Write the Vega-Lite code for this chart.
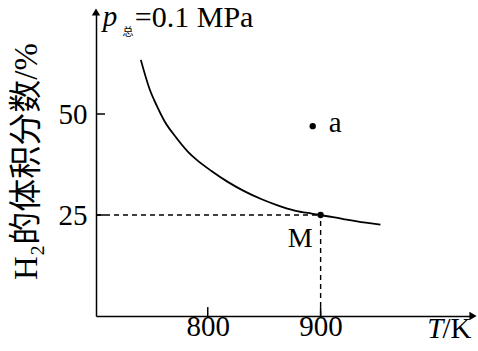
{
  "$schema": "https://vega.github.io/schema/vega-lite/v6.json",
  "width": 377,
  "height": 304,
  "autosize": {"type": "none"},
  "padding": {"left": 96, "top": 12, "right": 5, "bottom": 35},
  "background": "white",
  "config": {"view": {"stroke": null}, "font": "Liberation Serif"},
  "datasets": {
    "curve": [
      {"T": 740.7, "v": 63.4},
      {"T": 748.7, "v": 56.0},
      {"T": 754.6, "v": 52.2},
      {"T": 762, "v": 48.1},
      {"T": 770.8, "v": 44.6},
      {"T": 782.3, "v": 40.7},
      {"T": 790, "v": 38.7},
      {"T": 803.3, "v": 35.9},
      {"T": 817.7, "v": 33.2},
      {"T": 832.7, "v": 30.85},
      {"T": 847.8, "v": 28.9},
      {"T": 861.9, "v": 27.4},
      {"T": 877, "v": 26.1},
      {"T": 892, "v": 25.35},
      {"T": 900, "v": 25.0},
      {"T": 920, "v": 24.0},
      {"T": 940, "v": 23.1},
      {"T": 953, "v": 22.6}
    ],
    "points": [
      {"T": 893, "v": 47.0, "label": "a"},
      {"T": 900, "v": 25.0, "label": "M"}
    ],
    "guides": [
      {"T": 701, "v": 25, "T2": 900, "v2": 25},
      {"T": 900, "v": 0, "T2": 900, "v2": 25}
    ],
    "xticks": [
      {"T": 800, "v": 0, "v2": 2.2},
      {"T": 900, "v": 0, "v2": 2.2}
    ],
    "yticks": [
      {"T": 701, "T2": 709, "v": 25},
      {"T": 701, "T2": 709, "v": 50}
    ],
    "arrows": [
      {"T": 1035, "v": 0, "dir": "x"},
      {"T": 701, "v": 75.25, "dir": "y"}
    ],
    "titleparts": [
      {"part": "p", "T": 707, "v": 71.7},
      {"part": "总", "T": 724.5, "v": 69.4},
      {"part": "=0.1 MPa", "T": 735.4, "v": 71.5},
      {"part": "T", "T": 994.5, "v": -5.5},
      {"part": "/K", "T": 1008, "v": -5.5}
    ]
  },
  "layer": [
    {
      "data": {"name": "guides"},
      "mark": {"type": "rule", "color": "black", "strokeWidth": 1.4, "strokeDash": [5, 4]},
      "encoding": {
        "x": {"field": "T", "type": "quantitative", "scale": {"domain": [701, 1035], "nice": false, "zero": false},
          "axis": {"values": [800, 900], "title": null, "grid": false, "domainColor": "black", "domainWidth": 1.5,
            "ticks": false, "labelFontSize": 29, "labelColor": "black",
            "labelFont": "Liberation Serif", "labelPadding": -4}},
        "x2": {"field": "T2"},
        "y": {"field": "v", "type": "quantitative", "scale": {"domain": [0, 75.25], "nice": false, "zero": false},
          "axis": {"values": [25, 50], "title": "H₂的体积分数/%", "grid": false, "domainColor": "black", "domainWidth": 1.5,
            "ticks": false, "labelFontSize": 29, "labelColor": "black",
            "labelFont": "Liberation Serif", "labelPadding": 9,
            "titleFont": "Liberation Serif, Noto Sans CJK SC", "titleFontSize": 33, "titleFontWeight": "normal",
            "titleColor": "black", "titleAngle": -90, "titleX": -70, "titleY": 149, "titleAlign": "center", "titleBaseline": "middle"}},
        "y2": {"field": "v2"}
      }
    },
    {
      "data": {"name": "xticks"},
      "mark": {"type": "rule", "color": "black", "strokeWidth": 1.5},
      "encoding": {
        "x": {"field": "T", "type": "quantitative"},
        "y": {"field": "v", "type": "quantitative"},
        "y2": {"field": "v2"}
      }
    },
    {
      "data": {"name": "yticks"},
      "mark": {"type": "rule", "color": "black", "strokeWidth": 1.5},
      "encoding": {
        "x": {"field": "T", "type": "quantitative"},
        "x2": {"field": "T2"},
        "y": {"field": "v", "type": "quantitative"}
      }
    },
    {
      "data": {"name": "curve"},
      "mark": {"type": "line", "color": "black", "strokeWidth": 1.8, "interpolate": "monotone"},
      "encoding": {
        "x": {"field": "T", "type": "quantitative"},
        "y": {"field": "v", "type": "quantitative"}
      }
    },
    {
      "data": {"name": "points"},
      "mark": {"type": "point", "filled": true, "color": "black", "size": 40, "opacity": 1},
      "encoding": {
        "x": {"field": "T", "type": "quantitative"},
        "y": {"field": "v", "type": "quantitative"}
      }
    },
    {
      "data": {"name": "points"},
      "transform": [{"filter": "datum.label === 'a'"}],
      "mark": {"type": "text", "fontSize": 29, "font": "Liberation Serif", "align": "left", "baseline": "middle", "dx": 16, "dy": -3, "color": "black"},
      "encoding": {
        "x": {"field": "T", "type": "quantitative"},
        "y": {"field": "v", "type": "quantitative"},
        "text": {"field": "label"}
      }
    },
    {
      "data": {"name": "points"},
      "transform": [{"filter": "datum.label === 'M'"}],
      "mark": {"type": "text", "fontSize": 28, "font": "Liberation Serif", "align": "right", "baseline": "middle", "dx": -8, "dy": 24, "color": "black"},
      "encoding": {
        "x": {"field": "T", "type": "quantitative"},
        "y": {"field": "v", "type": "quantitative"},
        "text": {"field": "label"}
      }
    },
    {
      "data": {"name": "arrows"},
      "transform": [{"filter": "datum.dir === 'x'"}],
      "mark": {"type": "point", "shape": "triangle-right", "filled": true, "color": "black", "size": 70, "opacity": 1},
      "encoding": {
        "x": {"field": "T", "type": "quantitative"},
        "y": {"field": "v", "type": "quantitative"}
      }
    },
    {
      "data": {"name": "arrows"},
      "transform": [{"filter": "datum.dir === 'y'"}],
      "mark": {"type": "point", "shape": "triangle-up", "filled": true, "color": "black", "size": 70, "opacity": 1},
      "encoding": {
        "x": {"field": "T", "type": "quantitative"},
        "y": {"field": "v", "type": "quantitative"}
      }
    },
    {
      "data": {"name": "titleparts"},
      "transform": [{"filter": "datum.part === 'p' || datum.part === 'T'"}],
      "mark": {"type": "text", "font": "Liberation Serif", "fontStyle": "italic", "align": "left", "baseline": "alphabetic", "color": "black"},
      "encoding": {
        "x": {"field": "T", "type": "quantitative"},
        "y": {"field": "v", "type": "quantitative"},
        "text": {"field": "part"},
        "size": {"value": 29}
      }
    },
    {
      "data": {"name": "titleparts"},
      "transform": [{"filter": "datum.part === '总'"}],
      "mark": {"type": "text", "font": "Noto Sans CJK SC", "align": "left", "baseline": "alphabetic", "color": "black"},
      "encoding": {
        "x": {"field": "T", "type": "quantitative"},
        "y": {"field": "v", "type": "quantitative"},
        "text": {"field": "part"},
        "size": {"value": 11}
      }
    },
    {
      "data": {"name": "titleparts"},
      "transform": [{"filter": "datum.part === '/K'"}],
      "mark": {"type": "text", "font": "Liberation Serif", "align": "left", "baseline": "alphabetic", "color": "black"},
      "encoding": {
        "x": {"field": "T", "type": "quantitative"},
        "y": {"field": "v", "type": "quantitative"},
        "text": {"field": "part"},
        "size": {"value": 29}
      }
    },
    {
      "data": {"name": "titleparts"},
      "transform": [{"filter": "datum.part === '=0.1 MPa'"}],
      "mark": {"type": "text", "font": "Liberation Serif", "align": "left", "baseline": "alphabetic", "color": "black"},
      "encoding": {
        "x": {"field": "T", "type": "quantitative"},
        "y": {"field": "v", "type": "quantitative"},
        "text": {"field": "part"},
        "size": {"value": 30}
      }
    }
  ]
}
